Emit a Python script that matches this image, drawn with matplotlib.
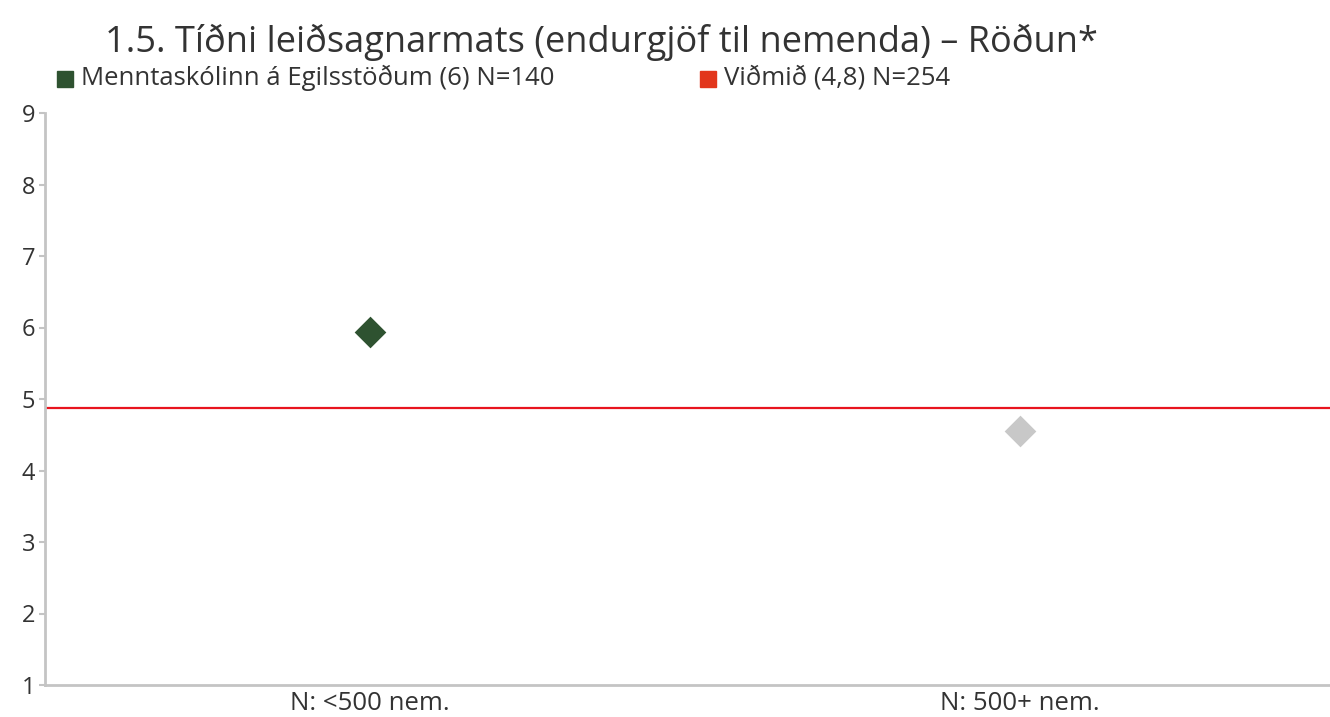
import matplotlib
matplotlib.use('Agg')
import matplotlib.pyplot as plt
from matplotlib.patches import Rectangle

plt.rcParams['font.family'] = ['Open Sans', 'DejaVu Sans']

# Data
categories = ['N: <500 nem.', 'N: 500+ nem.']
school_values = [5.94, None]
other_values = [None, 4.55]
benchmark = 4.88
school_label = 'Menntaskólinn á Egilsstöðum (6) N=140'
benchmark_label = 'Viðmið (4,8) N=254'
title = '1.5. Tíðni leiðsagnarmats (endurgjöf til nemenda) – Röðun*'

green = '#2e5230'
grey = '#c8c8c8'
red = '#e8141e'
red_legend = '#e2361c'
axis_grey = '#c4c4c4'
text_col = '#333333'

fig = plt.figure(figsize=(13.3, 7.17), dpi=100)
ax = fig.add_axes([45 / 1330, 1 - 685 / 717, 1285 / 1330, (685 - 113) / 717])

x = list(range(len(categories)))
for xi, v in zip(x, school_values):
    if v is not None:
        ax.scatter(xi, v, marker='D', s=260, color=green, zorder=3, linewidths=0)
for xi, v in zip(x, other_values):
    if v is not None:
        ax.scatter(xi, v, marker='D', s=260, color=grey, zorder=3, linewidths=0)

ax.axhline(benchmark, color=red, lw=1.6, zorder=2)

ax.set_xlim(-0.5, 1.477)
ax.set_ylim(1, 9)
ax.set_yticks(range(1, 10))
ax.set_xticks(x)
ax.set_xticklabels(categories)
ax.tick_params(axis='y', length=4, width=1.5, color=axis_grey, labelsize=17,
               labelcolor=text_col, pad=3)
ax.tick_params(axis='x', length=0, labelsize=18.5, labelcolor=text_col, pad=4)
for s in ['top', 'right']:
    ax.spines[s].set_visible(False)
for s in ['left', 'bottom']:
    ax.spines[s].set_color(axis_grey)
    ax.spines[s].set_linewidth(2)

# title
fig.text(105 / 1330, 1 - 42 / 717, title, fontsize=26, color=text_col,
         va='center', ha='left')

# legend
for xs, lab, col in [(57, school_label, green), (700, benchmark_label, red_legend)]:
    fig.patches.append(Rectangle((xs / 1330, 1 - 87 / 717), 16 / 1330, 16 / 717,
                                 transform=fig.transFigure, color=col))
    fig.text((xs + 24) / 1330, 1 - 78 / 717, lab, fontsize=18.5, color=text_col,
             va='center', ha='left')

fig.savefig('out.png', dpi=100)
